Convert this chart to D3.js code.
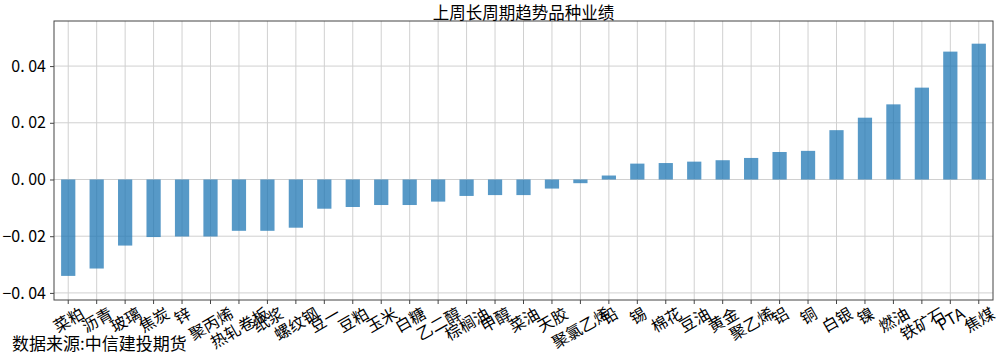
<!DOCTYPE html>
<html>
<head>
<meta charset="utf-8">
<script src="https://cdn.jsdelivr.net/npm/d3@7"></script>
<style>
  body { margin: 0; background: #fff; }
  text { font-family: "Noto Sans CJK SC", "DejaVu Sans", sans-serif; fill: #000; }
</style>
</head>
<body>
<div id="chart"></div>
<script>
// data
const categories = ['菜粕', '沥青', '玻璃', '焦炭', '锌', '聚丙烯', '热轧卷板', '纸浆', '螺纹钢', '豆一',
    '豆粕', '玉米', '白糖', '乙二醇', '棕榈油', '甲醇', '菜油', '天胶', '聚氯乙烯', '铅',
    '锡', '棉花', '豆油', '黄金', '聚乙烯', '铝', '铜', '白银', '镍', '燃油', '铁矿石', 'PTA', '焦煤'];
const values = [-0.0340, -0.0314, -0.0233, -0.0203, -0.0201, -0.0201, -0.0181, -0.0181, -0.0170, -0.0103,
    -0.0097, -0.0090, -0.0090, -0.0078, -0.0058, -0.0055, -0.0055, -0.0032, -0.0013, 0.0014,
    0.0056, 0.0058, 0.0063, 0.0068, 0.0076, 0.0097, 0.0101, 0.0174, 0.0218, 0.0265, 0.0324, 0.0451, 0.0479];
const yTicks = [-0.04, -0.02, 0.00, 0.02, 0.04];
const title = '上周长周期趋势品种业绩';
const source = '数据来源:中信建投期货';

const width = 1003;
const height = 354;
const plotLeft = 54, plotRight = 993, plotTop = 21, plotBottom = 300;

const svg = d3.select('#chart').append('svg')
    .attr('width', width).attr('height', height);

// scales
const x = d3.scaleBand()
    .domain(categories)
    .range([plotLeft, plotRight])
    .paddingInner(0.5)
    .paddingOuter(0.25);
const y = d3.scaleLinear()
    .domain([-0.0425, 0.0559])
    .range([plotBottom, plotTop]);

// grid
const grid = svg.append('g').attr('stroke', '#d0d0d0').attr('stroke-width', 1);
grid.selectAll('.gx').data(categories).enter().append('line')
    .attr('x1', d => x(d) + x.bandwidth() / 2).attr('x2', d => x(d) + x.bandwidth() / 2)
    .attr('y1', plotTop).attr('y2', plotBottom);
grid.selectAll('.gy').data(yTicks).enter().append('line')
    .attr('x1', plotLeft).attr('x2', plotRight)
    .attr('y1', d => y(d)).attr('y2', d => y(d));

// bars
svg.append('g').selectAll('rect').data(values).enter().append('rect')
    .attr('x', (d, i) => x(categories[i]))
    .attr('width', x.bandwidth())
    .attr('y', d => y(Math.max(0, d)))
    .attr('height', d => Math.abs(y(d) - y(0)))
    .attr('fill', '#1f77b4')
    .attr('fill-opacity', 0.75);

// frame
svg.append('rect')
    .attr('x', plotLeft).attr('y', plotTop)
    .attr('width', plotRight - plotLeft).attr('height', plotBottom - plotTop)
    .attr('fill', 'none').attr('stroke', '#444').attr('stroke-width', 1);

// y axis
const yAxis = d3.axisLeft(y)
    .tickValues(yTicks)
    .tickSize(4)
    .tickPadding(4)
    .tickFormat(d3.format('.2f'));
const gy = svg.append('g')
    .attr('transform', `translate(${plotLeft},0)`)
    .call(yAxis);
gy.select('.domain').remove();
gy.selectAll('line').attr('stroke', '#444');
gy.selectAll('text').attr('font-size', 16).attr('fill', '#000')
    .style('font-family', '"Noto Sans CJK SC", sans-serif')
    .text(d => d3.format('.2f')(d).replace('.', '. '));

// x axis ticks
const xAxis = d3.axisBottom(x).tickSize(4).tickFormat('');
const gx = svg.append('g')
    .attr('transform', `translate(0,${plotBottom})`)
    .call(xAxis);
gx.select('.domain').remove();
gx.selectAll('line').attr('stroke', '#444');

// rotated x labels, centered under ticks like matplotlib rotation=30
const fs = 16;
const ang = 30 * Math.PI / 180;
const labels = svg.append('g').selectAll('text').data(categories).enter().append('text')
    .attr('font-size', fs)
    .attr('text-anchor', 'middle')
    .attr('dominant-baseline', 'central')
    .text(d => d);
labels.each(function (d) {
    const len = this.getComputedTextLength();
    const h = len * Math.sin(ang) + fs * Math.cos(ang);
    const cx = x(d) + x.bandwidth() / 2;
    const cy = plotBottom + 4 + h / 2;
    d3.select(this).attr('transform', `translate(${cx},${cy}) rotate(-30)`);
});

// title
svg.append('text')
    .attr('x', (plotLeft + plotRight) / 2).attr('y', 19)
    .attr('text-anchor', 'middle')
    .attr('font-size', 16.5)
    .text(title);

// source
svg.append('text')
    .attr('x', 12).attr('y', 350)
    .attr('font-size', 17)
    .text(source);
</script>
</body>
</html>
